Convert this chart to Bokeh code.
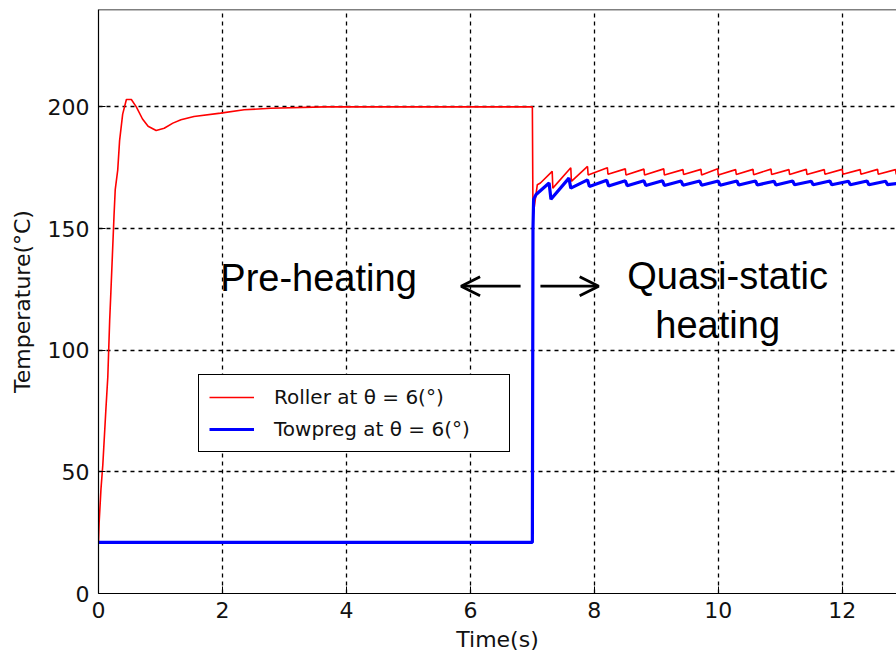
from bokeh.plotting import figure
from bokeh.models import (ColumnDataSource, Legend, LegendItem, Range1d, FixedTicker,
                          Span, Arrow, OpenHead, Label)
from bokeh.embed import file_html
from bokeh.resources import INLINE

# ---- data ----
roller_t = [0.0, 0.01, 0.04, 0.07, 0.12, 0.15, 0.18, 0.20, 0.25, 0.27, 0.31, 0.34, 0.39,
            0.45, 0.53, 0.61, 0.71, 0.80, 0.93, 1.06, 1.20, 1.33, 1.54, 1.97, 2.35, 2.78,
            3.64, 7.00, 7.01, 7.08, 7.13, 7.32, 7.33, 7.62, 7.63, 7.89, 7.90, 8.21, 8.22,
            8.50, 8.51, 8.80, 8.81, 9.12, 9.13, 9.43, 9.44, 9.72, 9.73, 9.99, 10.00,
            10.28, 10.29, 10.56, 10.57, 10.85, 10.86, 11.14, 11.15, 11.42, 11.43, 11.71,
            11.72, 12.00, 12.01, 12.29, 12.30, 12.57, 12.58, 12.86, 12.87, 13.00]
roller_T = [21, 29, 43, 53, 76, 89, 112, 124, 155, 166, 174, 186, 197,
            203, 203, 200, 195, 192, 190.3, 191.2, 193.3, 194.7, 196, 197.4, 198.8, 199.4,
            200, 200, 155, 168, 168.7, 173.5, 166.6, 175, 169.4, 175.5, 172, 175, 172.3,
            174.5, 172, 174.4, 172, 174.5, 172, 174.2, 172.2, 174.3, 172, 174.6, 172,
            174.2, 172.2, 174.3, 172.1, 174.4, 172.2, 174.2, 172.2, 174.3, 172.2, 174.2,
            172.3, 174.3, 172.3, 174.2, 172.3, 174.3, 172.3, 174.2, 172.3, 173]

towpreg_t = [0.0, 7.00, 7.01, 7.02, 7.06, 7.27, 7.30, 7.59, 7.62, 7.89, 7.92, 8.20, 8.23,
             8.50, 8.53, 8.80, 8.83, 9.10, 9.13, 9.40, 9.43, 9.70, 9.73, 10.00, 10.03,
             10.30, 10.33, 10.60, 10.63, 10.90, 10.93, 11.20, 11.23, 11.50, 11.53, 11.80,
             11.83, 12.10, 12.13, 12.40, 12.43, 12.70, 12.73, 13.00]
towpreg_T = [21, 21, 150, 162, 164, 168.7, 162, 170.7, 166.6, 170, 167.3, 169.8, 167.5,
             169.6, 167.6, 169.6, 167.7, 169.6, 167.7, 169.5, 167.8, 169.5, 167.8, 169.5, 167.8,
             169.5, 167.9, 169.5, 167.9, 169.4, 167.9, 169.5, 168.0, 169.4, 168.0, 169.5,
             168.0, 169.4, 168.0, 169.5, 168.0, 169.4, 168.0, 168.8]

x_ticks = [0, 2, 4, 6, 8, 10, 12]
y_ticks = [0, 50, 100, 150, 200]
x_max = 12.875
y_max = 240

labels = ["Roller at \u03b8 = 6(\u00b0)", "Towpreg at \u03b8 = 6(\u00b0)"]

# annotation positions (data units)
pre_xy = (3.55, 129.5)
quasi_xy = (10.15, 130.5)
heat_xy = (9.99, 110.5)
arrow_y = 126.3
arrow_left = (6.81, 5.85)
arrow_right = (7.13, 8.07)

FONT = "DejaVu Sans"
BIG_FONT = "Liberation Sans"

p = figure(width=896, height=664, output_backend="svg", toolbar_location=None,
           x_range=Range1d(0, x_max), y_range=Range1d(0, y_max),
           min_border_left=98, min_border_right=0, min_border_top=9, min_border_bottom=71,
           background_fill_color="white", border_fill_color="white")
p.outline_line_color = None

src_r = ColumnDataSource(dict(t=roller_t, T=roller_T))
src_b = ColumnDataSource(dict(t=towpreg_t, T=towpreg_T))
r1 = p.line("t", "T", source=src_r, line_color="#ff0000", line_width=1.6)
r2 = p.line("t", "T", source=src_b, line_color="#0000ff", line_width=3.2)

for ax in (p.xaxis[0], p.yaxis[0]):
    ax.major_tick_in = 7
    ax.major_tick_out = 0
    ax.minor_tick_in = 0
    ax.minor_tick_out = 0
    ax.axis_line_color = "black"
    ax.axis_line_width = 1.2
    ax.major_tick_line_color = "black"
    ax.major_label_text_font = FONT
    ax.major_label_text_font_size = "22px"
    ax.major_label_text_color = "#111111"
    ax.axis_label_text_font = FONT
    ax.axis_label_text_font_size = "22px"
    ax.axis_label_text_font_style = "normal"
    ax.axis_label_text_color = "#111111"

p.xaxis.ticker = FixedTicker(ticks=x_ticks)
p.yaxis.ticker = FixedTicker(ticks=y_ticks)
p.xaxis.axis_label = "Time(s)"
p.yaxis.axis_label = "Temperature(\u00b0C)"
p.xaxis.major_label_standoff = 8
p.yaxis.major_label_standoff = 9
p.xaxis.axis_label_standoff = 6
p.yaxis.axis_label_standoff = 10

p.xgrid[0].ticker = p.xaxis[0].ticker
p.ygrid[0].ticker = p.yaxis[0].ticker
for g in (p.xgrid[0], p.ygrid[0]):
    g.grid_line_color = "black"
    g.grid_line_dash = "4 4"
    g.grid_line_width = 1.3

p.add_layout(Span(location=y_max, dimension="width", line_color="black", line_width=1.5))

for txt, (x, y) in (("Pre-heating", pre_xy), ("Quasi-static", quasi_xy), ("heating", heat_xy)):
    p.add_layout(Label(x=x, y=y, text=txt, text_font=BIG_FONT, text_font_size="38px",
                       text_align="center", text_baseline="middle", text_color="black"))

for xs, xe in (arrow_left, arrow_right):
    p.add_layout(Arrow(end=OpenHead(size=19, line_width=2.8, line_color="black"),
                       x_start=xs, y_start=arrow_y, x_end=xe, y_end=arrow_y,
                       line_width=2.8, line_color="black"))

legend = Legend(items=[LegendItem(label=labels[0], renderers=[r1]),
                       LegendItem(label=labels[1], renderers=[r2])],
                location=(100, 141), orientation="vertical")
legend.label_text_font = FONT
legend.label_text_font_size = "20px"
legend.label_text_color = "#111111"
legend.border_line_color = "black"
legend.border_line_alpha = 1.0
legend.border_line_width = 1.5
legend.background_fill_alpha = 1
legend.glyph_width = 45
legend.glyph_height = 24
legend.label_height = 24
legend.label_width = 225
legend.label_standoff = 20
legend.spacing = 8
legend.padding = 10
legend.margin = 0
p.add_layout(legend)

open("out.html", "w").write(file_html(p, INLINE))
